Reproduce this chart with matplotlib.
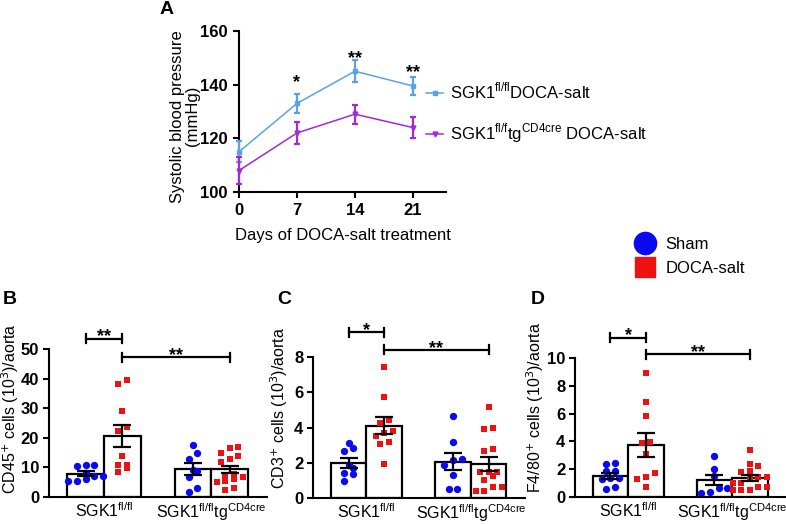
import numpy as np
import matplotlib.pyplot as plt
from matplotlib.lines import Line2D

plt.rcParams['font.family'] = 'Liberation Sans'
plt.rcParams['axes.linewidth'] = 1.5

# panel A: systolic blood pressure
days = [0, 7, 14, 21]
bp_fl = [115, 133, 145, 139.5]
bp_fl_err = [4, 3.5, 4, 3.5]
bp_tg = [108, 122, 129, 124]
bp_tg_err = [5, 4, 3.5, 4]
bp_stars = ['', '*', '**', '**']
bp_star_y = [0, 139.2, 148.2, 142.9]

# panels B-D: cells per aorta (sham fl, doca fl, sham tg, doca tg)
cd45 = [
    [10.8, 10.4, 10.9, 7.2, 6.1, 5.3, 5.3, 7.0, 8.0],
    [38.2, 39.5, 29.2, 22.4, 23.5, 13.9, 10.9, 8.3, 9.7, 10.9],
    [17.7, 15.0, 12.9, 8.7, 6.9, 1.6, 2.9, 9.2],
    [16.6, 17.0, 14.8, 13.7, 12.8, 11.7, 7.9, 7.5, 6.6, 6.1, 5.3, 5.0, 2.4, 2.9],
]
cd3 = [
    [3.1, 2.65, 2.85, 1.9, 1.7, 1.4, 1.35, 0.97],
    [7.45, 5.75, 4.42, 4.27, 3.82, 3.67, 3.5, 3.19, 3.04, 1.93],
    [4.65, 3.18, 2.15, 2.2, 1.9, 1.3, 0.52, 0.52],
    [5.14, 3.9, 4.0, 2.77, 2.67, 1.47, 1.46, 1.5, 1.25, 1.0, 0.6, 0.42, 0.42, 0.6],
]
f480 = [
    [2.42, 2.38, 1.85, 1.9, 1.38, 1.38, 1.3, 0.58, 0.72],
    [8.9, 6.83, 5.8, 3.98, 3.9, 3.09, 1.75, 1.27, 1.41, 0.7],
    [2.95, 2.0, 1.5, 0.67, 0.32, 0.35, 0.65],
    [3.4, 2.2, 2.38, 1.84, 1.78, 1.42, 1.42, 1.3, 1.02, 1.02, 0.7, 0.7, 0.47, 0.47, 0.5],
]
group_labels = [r'SGK1$^{\mathregular{fl/fl}}$',
                r'SGK1$^{\mathregular{fl/fl}}$tg$^{\mathregular{CD4cre}}$']
bar_x = [1, 2, 3.93, 4.93]

blue = '#5aa2e6'
purple = '#a22ad2'
sham_c = '#0a0af0'
doca_c = '#ee1111'

fs = 12
fs_lab = 11.5

fig = plt.figure(figsize=(7.86, 5.24), dpi=100)

# ---- A ----
axA = fig.add_axes([0.3041, 0.6336, 0.2634, 0.3073])
axA.errorbar(days, bp_fl, yerr=bp_fl_err, color=blue, lw=1.1, marker='s', ms=3.5,
             elinewidth=1.6, capsize=2.5, capthick=1.6, clip_on=False, zorder=3)
axA.errorbar(days, bp_tg, yerr=bp_tg_err, color=purple, lw=1.1, marker='v', ms=3.5,
             elinewidth=1.6, capsize=2.5, capthick=1.6, clip_on=False, zorder=3)
for d, s, y in zip(days, bp_stars, bp_star_y):
    if s:
        axA.text(d, y, s, ha='center', va='baseline', fontsize=13, fontweight='bold')
axA.set_xlim(0, 25)
axA.set_ylim(100, 160)
axA.set_xticks(days)
axA.set_yticks([100, 120, 140, 160])
axA.spines[['top', 'right']].set_visible(False)
axA.tick_params(direction='out', length=4, width=1.5, labelsize=fs, pad=4)
for t in axA.get_xticklabels() + axA.get_yticklabels():
    t.set_fontweight('bold')
axA.set_xlabel('Days of DOCA-salt treatment', fontsize=fs, labelpad=7)
axA.set_ylabel('Systolic blood pressure\n(mmHg)', fontsize=fs, linespacing=1.0)
axA.yaxis.set_label_coords(-0.19, 0.47)
hA = [Line2D([], [], color=blue, lw=1.1, marker='s', ms=3.5),
      Line2D([], [], color=purple, lw=1.1, marker='v', ms=3.5)]
axA.legend(hA, [r'SGK1$^{\mathregular{fl/fl}}$DOCA-salt',
                r'SGK1$^{\mathregular{fl/f}}$tg$^{\mathregular{CD4cre}}$ DOCA-salt'],
           loc='upper left', bbox_to_anchor=(0.905, 0.69), frameon=False,
           fontsize=fs, handlelength=1.0, handletextpad=0.4, labelspacing=1.2,
           borderpad=0, borderaxespad=0)
fig.text(167 / 786, 1 - 9 / 524, 'A', fontsize=14, fontweight='bold', ha='center', va='center')

# ---- Sham / DOCA legend ----
hL = [Line2D([], [], ls='none', marker='o', ms=16, color=sham_c),
      Line2D([], [], ls='none', marker='s', ms=15, color=doca_c)]
fig.legend(hL, ['Sham', 'DOCA-salt'], loc='upper left', bbox_to_anchor=(0.806, 1 - 237 / 524),
           frameon=False, fontsize=fs, handlelength=1.4, handletextpad=0.5,
           labelspacing=0.55, borderpad=0, borderaxespad=0)


def rows_offsets(vals, center, px_per_y, step):
    vals = np.asarray(vals)
    order = np.argsort(vals)
    rows = []
    for i in order:
        if rows and (vals[i] - vals[rows[-1][0]]) * px_per_y < 6.8:
            rows[-1].append(i)
        else:
            rows.append([i])
    xs = np.zeros(len(vals))
    for row in rows:
        n = len(row)
        for k, i in enumerate(row):
            xs[i] = center + (k - (n - 1) / 2) * step
    return xs


def bar_panel(rect, data, ymax, ystep, ylabel, label_xy, letter, letter_x, br):
    ax = fig.add_axes(rect)
    ax.set_xlim(0, 5.95)
    ax.set_ylim(0, ymax)
    px_w = rect[2] * 786
    px_h = rect[3] * 524
    px_per_y = px_h / ymax
    step = 8.6 / (px_w / 5.95)
    for i, vals in enumerate(data):
        m = np.mean(vals)
        sem = np.std(vals, ddof=1) / np.sqrt(len(vals))
        ax.bar(bar_x[i], m, width=1.0, color='white', edgecolor='black', lw=1.6, zorder=1)
        xs = rows_offsets(vals, bar_x[i], px_per_y, step)
        if i % 2 == 0:
            ax.scatter(xs, vals, s=28, marker='o', color=sham_c, lw=0, zorder=2, clip_on=False)
        else:
            ax.scatter(xs, vals, s=24, marker='s', color=doca_c, lw=0, zorder=2, clip_on=False)
        ax.errorbar(bar_x[i], m, yerr=sem, color='black', elinewidth=1.6,
                    capsize=6.5, capthick=1.6, zorder=3)
    # significance brackets
    for (a, b, y, s) in br:
        h = 4.5 / px_per_y
        xa, xb = bar_x[a], bar_x[b]
        ax.plot([xa, xb], [y, y], color='black', lw=1.6, clip_on=False)
        ax.plot([xa, xa], [y - h, y + h], color='black', lw=1.6, clip_on=False)
        ax.plot([xb, xb], [y - h, y + h], color='black', lw=1.6, clip_on=False)
        ax.annotate(s, ((xa + xb) / 2, y), xytext=(0, -2), textcoords='offset points',
                    ha='center', va='baseline', fontsize=13, fontweight='bold',
                    annotation_clip=False)
    ax.set_yticks(np.arange(0, ymax + ystep / 2, ystep))
    ax.set_xticks([1.5, 4.43])
    ax.set_xticklabels(group_labels, fontsize=fs_lab)
    ax.spines[['top', 'right']].set_visible(False)
    ax.tick_params(axis='y', direction='out', length=4, width=1.5, labelsize=fs, pad=3)
    ax.tick_params(axis='x', length=0, pad=3)
    for t in ax.get_yticklabels():
        t.set_fontweight('bold')
    ax.set_ylabel(ylabel, fontsize=fs_lab)
    ax.yaxis.set_label_coords(*label_xy)
    fig.text(letter_x / 786, 1 - 300 / 524, letter, fontsize=14, fontweight='bold',
             ha='center', va='center')
    return ax


bar_panel([0.0623, 0.0515, 0.2774, 0.2824], cd45, 50, 10,
          r'CD45$^{+}$ cells (10$^{3}$)/aorta', (-0.128, 0.595), 'B', 10,
          [(0, 1, 53.5, '**'), (1, 3, 47.3, '**')])
bar_panel([0.3982, 0.0496, 0.2697, 0.2691], cd3, 8, 2,
          r'CD3$^{+}$ cells (10$^{3}$)/aorta', (-0.108, 0.64), 'C', 284,
          [(0, 1, 9.4, '*'), (1, 3, 8.4, '**')])
bar_panel([0.7316, 0.0515, 0.2684, 0.2653], f480, 10, 2,
          r'F4/80$^{+}$ cells (10$^{3}$)/aorta', (-0.137, 0.64), 'D', 538,
          [(0, 1, 11.46, '*'), (1, 3, 10.27, '**')])

fig.savefig('out.png', dpi=100)
